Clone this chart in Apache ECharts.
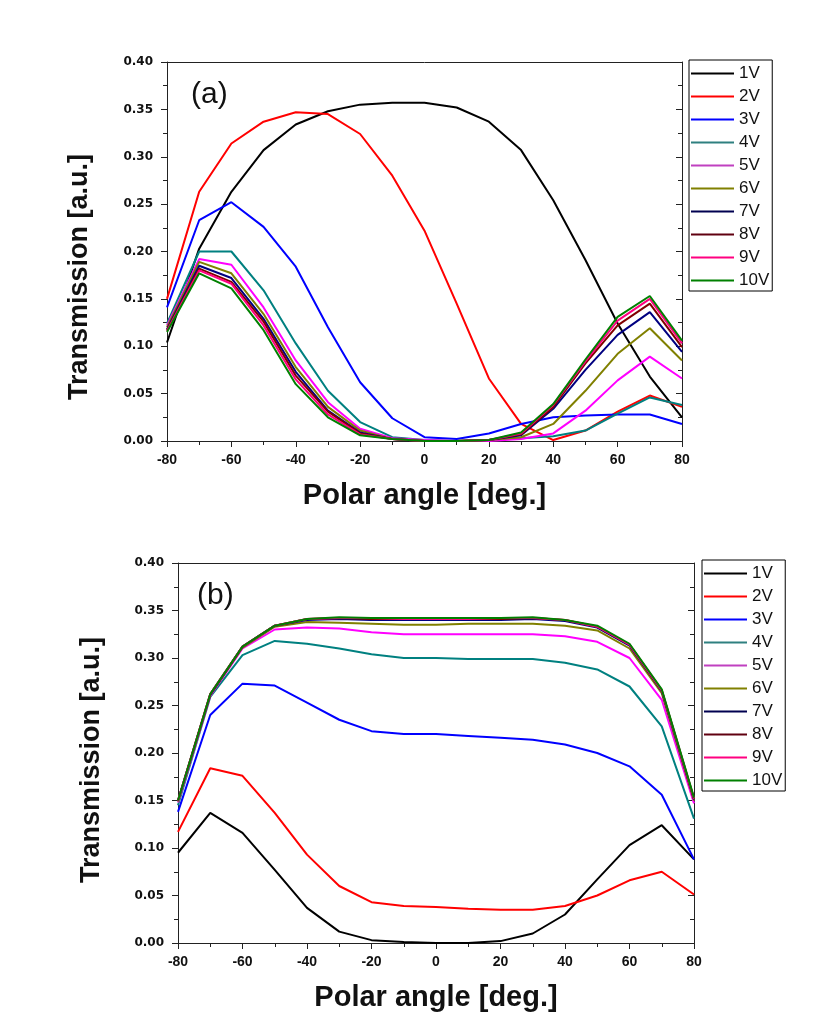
<!DOCTYPE html>
<html><head><meta charset="utf-8">
<script src="https://cdn.jsdelivr.net/npm/echarts@6/dist/echarts.min.js"></script>
<style>html,body{margin:0;padding:0;background:#fff}#c{width:835px;height:1032px}</style>
</head><body><div id="c"></div>
<script>
const angles = [-80,-70,-60,-50,-40,-30,-20,-10,0,10,20,30,40,50,60,70,80];
const names = ['1V','2V','3V','4V','5V','6V','7V','8V','9V','10V'];
const colors = ['#000000','#ff0000','#0000ff','#008080','#ff00ff','#808000','#000080','#800000','#ff0080','#008000'];
const legendColors = ['#000000','#ff0000','#0000ff','#2f8080','#c040c0','#808000','#000050','#600010','#ff0080','#008000'];

// Panel (a)
const a1 = [0.104,0.203,0.263,0.307,0.334,0.348,0.355,0.357,0.357,0.352,0.337,0.307,0.254,0.191,0.124,0.068,0.025];
const a2 = [0.150,0.263,0.314,0.337,0.347,0.345,0.324,0.280,0.222,0.145,0.066,0.018,0.001,0.011,0.031,0.048,0.036];
const a3 = [0.141,0.233,0.252,0.226,0.184,0.120,0.062,0.024,0.004,0.002,0.008,0.018,0.025,0.027,0.028,0.028,0.018];
const a4 = [0.124,0.200,0.200,0.159,0.103,0.053,0.020,0.004,0.001,0.000,0.001,0.003,0.005,0.011,0.029,0.046,0.038];
const a5 = [0.122,0.192,0.186,0.141,0.085,0.041,0.013,0.003,0.001,0.000,0.000,0.002,0.008,0.032,0.064,0.089,0.066];
const a6 = [0.120,0.189,0.177,0.134,0.078,0.036,0.011,0.002,0.000,0.000,0.001,0.004,0.018,0.053,0.092,0.119,0.085];
const a7 = [0.118,0.185,0.172,0.129,0.073,0.032,0.009,0.002,0.000,0.000,0.001,0.006,0.034,0.075,0.112,0.136,0.094];
const a8 = [0.117,0.182,0.168,0.126,0.069,0.031,0.008,0.002,0.000,0.000,0.001,0.007,0.036,0.082,0.122,0.145,0.099];
const a9 = [0.116,0.180,0.166,0.122,0.065,0.028,0.007,0.002,0.000,0.000,0.001,0.008,0.038,0.084,0.127,0.150,0.103];
const a10 = [0.115,0.177,0.161,0.117,0.060,0.025,0.006,0.002,0.000,0.000,0.001,0.009,0.039,0.086,0.131,0.153,0.106];

// Panel (b)
const b1 = [0.095,0.137,0.116,0.077,0.037,0.012,0.003,0.001,0.000,0.000,0.002,0.010,0.030,0.067,0.103,0.124,0.088];
const b2 = [0.117,0.184,0.176,0.137,0.093,0.060,0.043,0.039,0.038,0.036,0.035,0.035,0.039,0.050,0.066,0.075,0.051];
const b3 = [0.138,0.240,0.273,0.271,0.253,0.235,0.223,0.220,0.220,0.218,0.216,0.214,0.209,0.200,0.186,0.156,0.088];
const b4 = [0.145,0.259,0.303,0.318,0.315,0.310,0.304,0.300,0.300,0.299,0.299,0.299,0.295,0.288,0.270,0.228,0.131];
const b5 = [0.148,0.260,0.310,0.330,0.332,0.331,0.327,0.325,0.325,0.325,0.325,0.325,0.323,0.317,0.300,0.256,0.147];
const b6 = [0.149,0.261,0.311,0.333,0.338,0.337,0.336,0.335,0.335,0.336,0.336,0.336,0.334,0.329,0.310,0.263,0.150];
const b7 = [0.150,0.261,0.312,0.334,0.340,0.341,0.340,0.340,0.340,0.340,0.340,0.341,0.339,0.332,0.313,0.265,0.151];
const b8 = [0.150,0.262,0.312,0.334,0.341,0.342,0.341,0.341,0.341,0.341,0.341,0.342,0.340,0.333,0.314,0.266,0.152];
const b9 = [0.150,0.262,0.312,0.334,0.341,0.342,0.342,0.341,0.341,0.341,0.342,0.342,0.340,0.333,0.314,0.266,0.152];
const b10 = [0.150,0.262,0.312,0.334,0.341,0.343,0.342,0.342,0.342,0.342,0.342,0.343,0.340,0.334,0.315,0.267,0.153];

const panelA = [a1,a2,a3,a4,a5,a6,a7,a8,a9,a10];
const panelB = [b1,b2,b3,b4,b5,b6,b7,b8,b9,b10];

const titleFont = '"Liberation Sans",Arial,sans-serif';
const axisCol = '#222';

function xAxes(gi){
  return [{
    type:'value', gridIndex:gi, min:-80, max:80, interval:20, position:'bottom',
    axisLine:{show:true,onZero:false,lineStyle:{color:axisCol,width:1}},
    axisTick:{show:true,inside:false,length:6,lineStyle:{color:axisCol}},
    minorTick:{show:true,splitNumber:2,length:4,lineStyle:{color:axisCol}},
    splitLine:{show:false},
    axisLabel:{margin:12,fontFamily:titleFont,fontWeight:'bold',fontSize:14,color:'#111',
      formatter:v=>String(v)},
    name:'Polar angle [deg.]', nameLocation:'middle', nameGap:40,
    nameTextStyle:{fontFamily:titleFont,fontWeight:'bold',fontSize:29,color:'#111'}
  },{
    type:'value', gridIndex:gi, min:-80, max:80, interval:20, position:'top',
    axisLine:{show:true,onZero:false,lineStyle:{color:axisCol,width:1}},
    axisTick:{show:false}, axisLabel:{show:false}, splitLine:{show:false}
  }];
}
function yAxes(gi){
  return [{
    type:'value', gridIndex:gi, min:0, max:0.4, interval:0.05, position:'left',
    axisLine:{show:true,onZero:false,lineStyle:{color:axisCol,width:1}},
    axisTick:{show:true,inside:false,length:6,lineStyle:{color:axisCol}},
    minorTick:{show:true,splitNumber:2,length:4,lineStyle:{color:axisCol}},
    splitLine:{show:false},
    axisLabel:{margin:14,fontFamily:'"DejaVu Sans",sans-serif',fontWeight:'bold',fontSize:12,color:'#111',
      formatter:v=>v.toFixed(2)}
  },{
    type:'value', gridIndex:gi, min:0, max:0.4, interval:0.05, position:'right',
    axisLine:{show:true,onZero:false,lineStyle:{color:axisCol,width:1}},
    axisTick:{show:true,inside:true,length:6,lineStyle:{color:axisCol}},
    minorTick:{show:true,splitNumber:2,length:4,lineStyle:{color:axisCol}},
    axisLabel:{show:false}, splitLine:{show:false}
  }];
}

const series = [];
[panelA, panelB].forEach((panel, gi) => {
  panel.forEach((vals, i) => {
    series.push({
      type:'line', name:names[i], xAxisIndex:gi*2, yAxisIndex:gi*2,
      data: angles.map((a,k)=>[a, vals[k]]),
      symbol:'none', lineStyle:{width:2,color:colors[i]}, itemStyle:{color:colors[i]},
      z: 2+i, animation:false
    });
  });
});

function legend(left, top){
  return {
    orient:'vertical', left:left, top:top,
    data:names.map((n,i)=>({name:n, itemStyle:{color:legendColors[i], opacity:0}, lineStyle:{color:legendColors[i], width:2}})),
    itemWidth:43, itemHeight:14, itemGap:6, padding:[5,3,2,1],
    itemStyle:{opacity:0},
    borderColor:'#000', borderWidth:1, backgroundColor:'#fff',
    textStyle:{fontFamily:titleFont, fontSize:17, color:'#111'},
    selectedMode:false
  };
}

const option = {
  backgroundColor:'#fff',
  animation:false,
  grid:[
    {left:167, top:62, width:515, height:379, show:false},
    {left:178, top:563, width:516, height:380, show:false}
  ],
  xAxis:[...xAxes(0), ...xAxes(1)],
  yAxis:[...yAxes(0), ...yAxes(1)],
  legend:[legend(689,60), legend(702,560)],
  graphic:[
    {type:'text', left:191, top:80, style:{text:'(a)', font:'30px "Liberation Sans",Arial,sans-serif', fill:'#111'}},
    {type:'text', left:197, top:581, style:{text:'(b)', font:'30px "Liberation Sans",Arial,sans-serif', fill:'#111'}},
    {type:'text', x:80, y:277, rotation:Math.PI/2,
      style:{text:'Transmission [a.u.]', font:'bold 27px "Liberation Sans",Arial,sans-serif', fill:'#111', align:'center', verticalAlign:'middle'}},
    {type:'text', x:92, y:760, rotation:Math.PI/2,
      style:{text:'Transmission [a.u.]', font:'bold 27px "Liberation Sans",Arial,sans-serif', fill:'#111', align:'center', verticalAlign:'middle'}}
  ],
  series: series
};
const chart = echarts.init(document.getElementById('c'), null, {renderer:'canvas'});
chart.setOption(option);
</script>
</body></html>
